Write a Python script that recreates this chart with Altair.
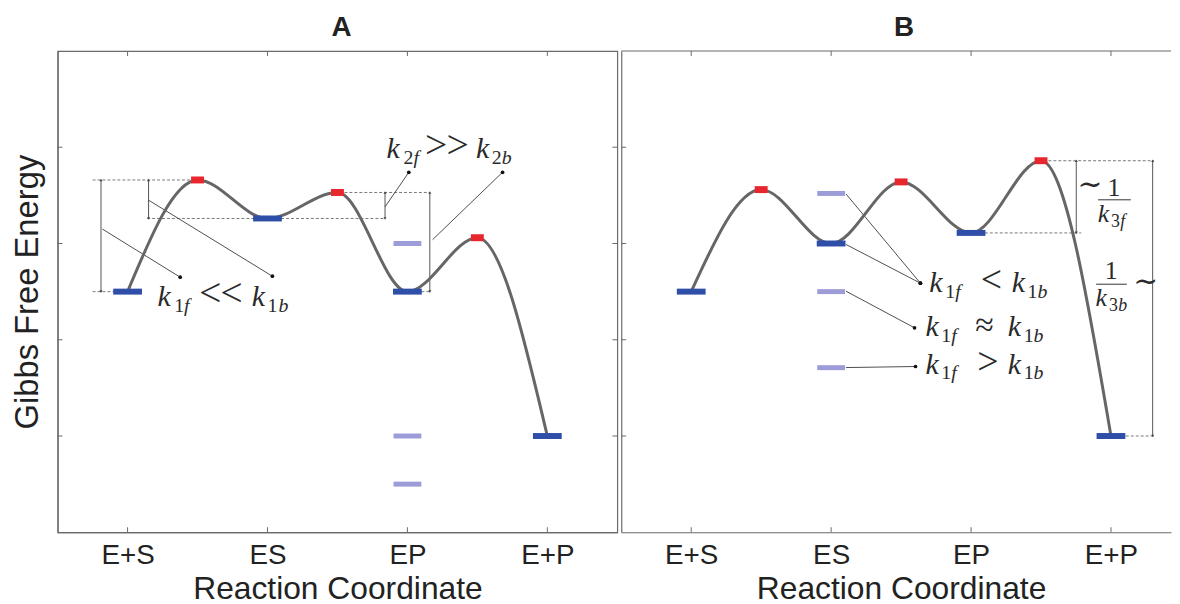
import json
import altair as alt
import pandas as pd

# ---------------- data ----------------
STAGES = ["E+S", "ES", "EP", "E+P"]
STAGE_POS = [1, 2, 3, 4]
Y_TICKS = [1, 2, 3, 4]

PATH_X = [1, 1.5, 2, 2.5, 3, 3.5, 4]
TS_X = [1.5, 2.5, 3.5]

# Panel A
A_PATH_Y = [2.5, 3.66, 3.26, 3.53, 2.5, 3.06, 1.0]
A_STATE_Y = [2.5, 3.26, 2.5, 1.0]
A_TS_Y = [3.66, 3.53, 3.06]
A_ALT_X = [3, 3, 3]
A_ALT_Y = [3.0, 1.0, 0.5]

# Panel B
B_PATH_Y = [2.5, 3.56, 3.0, 3.64, 3.11, 3.86, 1.0]
B_STATE_Y = [2.5, 3.0, 3.11, 1.0]
B_TS_Y = [3.56, 3.64, 3.86]
B_ALT_X = [2, 2, 2]
B_ALT_Y = [3.52, 2.5, 1.71]

# ---------------- annotations (data units) ----------------
A_DASH_Y = [3.66, 2.5, 3.26, 3.53, 2.5]
A_DASH_X = [0.75, 0.75, 1.14, 2.55, 3.10]
A_DASH_X2 = [1.45, 0.90, 2.84, 3.16, 3.16]
A_ARR_X = [0.81, 1.15, 2.84, 3.16]
A_ARR_Y = [2.5, 3.26, 3.26, 2.5]
A_ARR_Y2 = [3.66, 3.66, 3.53, 3.53]
A_LEAD_X = [0.82, 1.15, 2.84, 3.18]
A_LEAD_Y = [3.15, 3.45, 3.38, 3.04]
A_LEAD_X2 = [1.376, 2.035, 3.01, 3.68]
A_LEAD_Y2 = [2.65, 2.66, 3.74, 3.74]
A_TEXT = [
    ("k", 1.213, 2.35, 30, "i"), ("1", 1.333, 2.29, 20, "u"), ("f", 1.404, 2.29, 20, "i"),
    ("<", 1.51, 2.35, 40, "u"), ("<", 1.662, 2.35, 40, "u"),
    ("k", 1.887, 2.35, 30, "i"), ("1", 2.0, 2.29, 20, "u"), ("b", 2.078, 2.29, 20, "i"),
    ("k", 2.851, 3.887, 30, "i"), ("2", 2.972, 3.825, 20, "u"), ("f", 3.043, 3.825, 20, "i"),
    (">", 3.125, 3.887, 40, "u"), (">", 3.28, 3.887, 40, "u"),
    ("k", 3.49, 3.887, 30, "i"), ("2", 3.603, 3.825, 20, "u"), ("b", 3.674, 3.825, 20, "i"),
]

B_DASH_Y = [3.86, 3.11, 1.0]
B_DASH_X = [3.553, 3.099, 4.106]
B_DASH_X2 = [4.305, 3.787, 4.305]
B_ARR_X = [3.752, 4.298]
B_ARR_Y = [3.11, 1.0]
B_ARR_Y2 = [3.86, 3.86]
B_LEAD_X = [2.106, 2.106, 2.106, 2.106]
B_LEAD_Y = [3.515, 2.99, 2.505, 1.711]
B_LEAD_X2 = [2.638, 2.638, 2.596, 2.603]
B_LEAD_Y2 = [2.588, 2.588, 2.124, 1.722]
B_FRAC_X = [3.908, 3.894]
B_FRAC_X2 = [4.142, 4.113]
B_FRAC_Y = [3.454, 2.577]
B_TEXT = [
    ("k", 2.702, 2.495, 30, "i"), ("1", 2.816, 2.433, 20, "u"), ("f", 2.887, 2.433, 20, "i"),
    ("<", 3.07, 2.495, 38, "u"),
    ("k", 3.291, 2.495, 30, "i"), ("1", 3.404, 2.433, 20, "u"), ("b", 3.475, 2.433, 20, "i"),
    ("k", 2.674, 2.041, 30, "i"), ("1", 2.787, 1.979, 20, "u"), ("f", 2.858, 1.979, 20, "i"),
    ("\u2248", 3.03, 2.041, 34, "u"),
    ("k", 3.262, 2.041, 30, "i"), ("1", 3.376, 1.979, 20, "u"), ("b", 3.447, 1.979, 20, "i"),
    ("k", 2.674, 1.649, 30, "i"), ("1", 2.787, 1.588, 20, "u"), ("f", 2.858, 1.588, 20, "i"),
    (">", 3.045, 1.649, 38, "u"),
    ("k", 3.262, 1.649, 30, "i"), ("1", 3.376, 1.588, 20, "u"), ("b", 3.447, 1.588, 20, "i"),
    ("\u223c", 3.76, 3.515, 30, "u"), ("1", 3.975, 3.49, 26, "u"),
    ("k", 3.905, 3.225, 26, "i"), ("3", 4.0, 3.17, 18, "u"), ("f", 4.066, 3.17, 18, "i"),
    ("1", 3.955, 2.635, 26, "u"),
    ("k", 3.89, 2.35, 26, "i"), ("3", 3.986, 2.295, 18, "u"), ("b", 4.052, 2.295, 18, "i"),
    ("\u223c", 4.16, 2.51, 30, "u"),
]

# ---------------- style ----------------
BLUE = "#2f4ea8"
LIGHT = "#9c9cd8"
RED = "#e8262e"
CURVE = "#666666"
FRAME = "#6a6a6a"
TXT = "#222222"
SANS = "Liberation Sans, Arial, Helvetica, sans-serif"
SERIF = "Liberation Serif, Times New Roman, Times, DejaVu Serif, serif"
W_A, W_B, H = 564, 554, 485
XMIN = 0.5
XMAX_A = 4.5
XMAX_B = 0.5 + W_B / 141.0
YMAX = 5
TICK_X = 0.035
TICK_Y = 0.052

LABEL_EXPR = json.dumps([""] + STAGES) + "[datum.value]"


def x_axis(title_x=None):
    kw = dict(values=STAGE_POS, labelExpr=LABEL_EXPR, ticks=False, tickSize=0, grid=False,
              domainColor=FRAME, domainWidth=1.2, labelFont=SANS, labelFontSize=28,
              labelColor=TXT, labelPadding=9, title="Reaction Coordinate", titleFont=SANS,
              titleFontSize=32, titleFontWeight="normal", titleColor=TXT, titlePadding=5)
    if title_x is not None:
        kw["titleX"] = title_x
    return alt.Axis(**kw)


def y_axis(with_title):
    kw = dict(values=Y_TICKS, labels=False, ticks=False, tickSize=0, grid=False,
              domainColor=FRAME, domainWidth=1.2)
    if with_title:
        kw.update(title="Gibbs Free Energy", titleFont=SANS, titleFontSize=33,
                  titleFontWeight="normal", titleColor=TXT, titlePadding=13)
    else:
        kw.update(title=None)
    return alt.Axis(**kw)


def panel(path_y, state_y, ts_y, alt_x, alt_y, dash, arr, lead, text, xmax, width,
          title, title_dx, right_frame, frac=None, title_x=None):
    X = alt.X("x:Q", scale=alt.Scale(domain=[XMIN, xmax], nice=False, zero=False),
              axis=x_axis(title_x))
    Y = alt.Y("y:Q", scale=alt.Scale(domain=[0, YMAX], nice=False, zero=False),
              axis=y_axis(title == "A"))

    layers = []
    # frame ticks (inward)
    hx, hx2, hy = [], [], []
    for v in Y_TICKS:
        hx.append(XMIN); hx2.append(XMIN + TICK_X); hy.append(v)
        if right_frame:
            hx.append(xmax); hx2.append(xmax - TICK_X); hy.append(v)
    vx, vy, vy2 = [], [], []
    for v in STAGE_POS:
        vx += [v, v]; vy += [0, YMAX]; vy2 += [TICK_Y, YMAX - TICK_Y]
    layers.append(alt.Chart(pd.DataFrame({"x": hx, "x2": hx2, "y": hy})).mark_rule(
        color=FRAME, strokeWidth=1).encode(x=X, x2="x2:Q", y=Y))
    layers.append(alt.Chart(pd.DataFrame({"x": vx, "y": vy, "y2": vy2})).mark_rule(
        color=FRAME, strokeWidth=1).encode(x=X, y=Y, y2="y2:Q"))
    if not right_frame:
        layers.append(alt.Chart(pd.DataFrame({"x": [XMIN], "x2": [xmax], "y": [YMAX]})).mark_rule(
            color=FRAME, strokeWidth=1.2).encode(x=X, x2="x2:Q", y=Y))

    # dashed guides
    layers.append(alt.Chart(pd.DataFrame({"x": dash[0], "x2": dash[1], "y": dash[2]})).mark_rule(
        color="#7a7a7a", strokeWidth=1, strokeDash=[3, 2]).encode(x=X, x2="x2:Q", y=Y))
    # double arrows
    layers.append(alt.Chart(pd.DataFrame({"x": arr[0], "y": arr[1], "y2": arr[2]})).mark_rule(
        color="#555555", strokeWidth=1).encode(x=X, y=Y, y2="y2:Q"))
    layers.append(alt.Chart(pd.DataFrame({"x": arr[0], "y": arr[2]})).mark_point(
        shape="triangle-up", filled=True, size=9, color="#444444", opacity=1).encode(x=X, y=Y))
    layers.append(alt.Chart(pd.DataFrame({"x": arr[0], "y": arr[1]})).mark_point(
        shape="triangle-down", filled=True, size=9, color="#444444", opacity=1).encode(x=X, y=Y))
    if frac is not None:
        layers.append(alt.Chart(pd.DataFrame({"x": frac[0], "x2": frac[1], "y": frac[2]})).mark_rule(
            color="#333333", strokeWidth=1).encode(x=X, x2="x2:Q", y=Y))
    # leader lines + dots
    layers.append(alt.Chart(pd.DataFrame({"x": lead[0], "y": lead[1], "x2": lead[2], "y2": lead[3]})).mark_rule(
        color="#3a3a3a", strokeWidth=0.9).encode(x=X, y=Y, x2="x2:Q", y2="y2:Q"))
    layers.append(alt.Chart(pd.DataFrame({"x": lead[2], "y": lead[3]})).mark_circle(
        size=14, color="#111111", opacity=1).encode(x=X, y=Y))

    # energy path
    layers.append(alt.Chart(pd.DataFrame({"x": PATH_X, "y": path_y})).mark_line(
        interpolate="monotone", color=CURVE, strokeWidth=3).encode(x=X, y=Y))
    # states
    layers.append(alt.Chart(pd.DataFrame({"x": alt_x, "y": alt_y})).mark_tick(
        orient="horizontal", size=28, thickness=5, color=LIGHT, opacity=1).encode(x=X, y=Y))
    layers.append(alt.Chart(pd.DataFrame({"x": STAGE_POS, "y": state_y})).mark_tick(
        orient="horizontal", size=29, thickness=6, color=BLUE, opacity=1).encode(x=X, y=Y))
    layers.append(alt.Chart(pd.DataFrame({"x": TS_X, "y": ts_y})).mark_tick(
        orient="horizontal", size=13, thickness=7, color=RED, opacity=1).encode(x=X, y=Y))

    # math labels
    tdf = pd.DataFrame(text, columns=["t", "x", "y", "s", "st"])
    layers.append(alt.Chart(tdf[tdf.st == "i"]).mark_text(
        font=SERIF, fontStyle="italic", align="left", baseline="alphabetic", color="#2a2a2a").encode(
        x=X, y=Y, text="t:N", size=alt.Size("s:Q", scale=None)))
    layers.append(alt.Chart(tdf[tdf.st == "u"]).mark_text(
        font=SERIF, align="left", baseline="alphabetic", color="#2a2a2a").encode(
        x=X, y=Y, text="t:N", size=alt.Size("s:Q", scale=None)))

    view = alt.ViewBackground(stroke=FRAME, strokeWidth=1.2) if right_frame else \
        alt.ViewBackground(strokeOpacity=0)
    return alt.layer(*layers).properties(
        width=width, height=H, view=view,
        title=alt.TitleParams(text=title, font=SANS, fontSize=28, fontWeight="bold",
                              color=TXT, baseline="alphabetic", offset=-13, dx=title_dx))


chart_a = panel(A_PATH_Y, A_STATE_Y, A_TS_Y, A_ALT_X, A_ALT_Y,
                (A_DASH_X, A_DASH_X2, A_DASH_Y), (A_ARR_X, A_ARR_Y, A_ARR_Y2),
                (A_LEAD_X, A_LEAD_Y, A_LEAD_X2, A_LEAD_Y2), A_TEXT,
                XMAX_A, W_A, "A", 4, True)
chart_b = panel(B_PATH_Y, B_STATE_Y, B_TS_Y, B_ALT_X, B_ALT_Y,
                (B_DASH_X, B_DASH_X2, B_DASH_Y), (B_ARR_X, B_ARR_Y, B_ARR_Y2),
                (B_LEAD_X, B_LEAD_Y, B_LEAD_X2, B_LEAD_Y2), B_TEXT,
                XMAX_B, W_B, "B", 8, False,
                frac=(B_FRAC_X, B_FRAC_X2, B_FRAC_Y), title_x=282)

chart = alt.hconcat(chart_a, chart_b, spacing=1).properties(
    padding={"left": 3, "top": 2, "right": 0, "bottom": 0}
)

chart.save("out.html", embed_options={"renderer": "svg", "actions": False})
